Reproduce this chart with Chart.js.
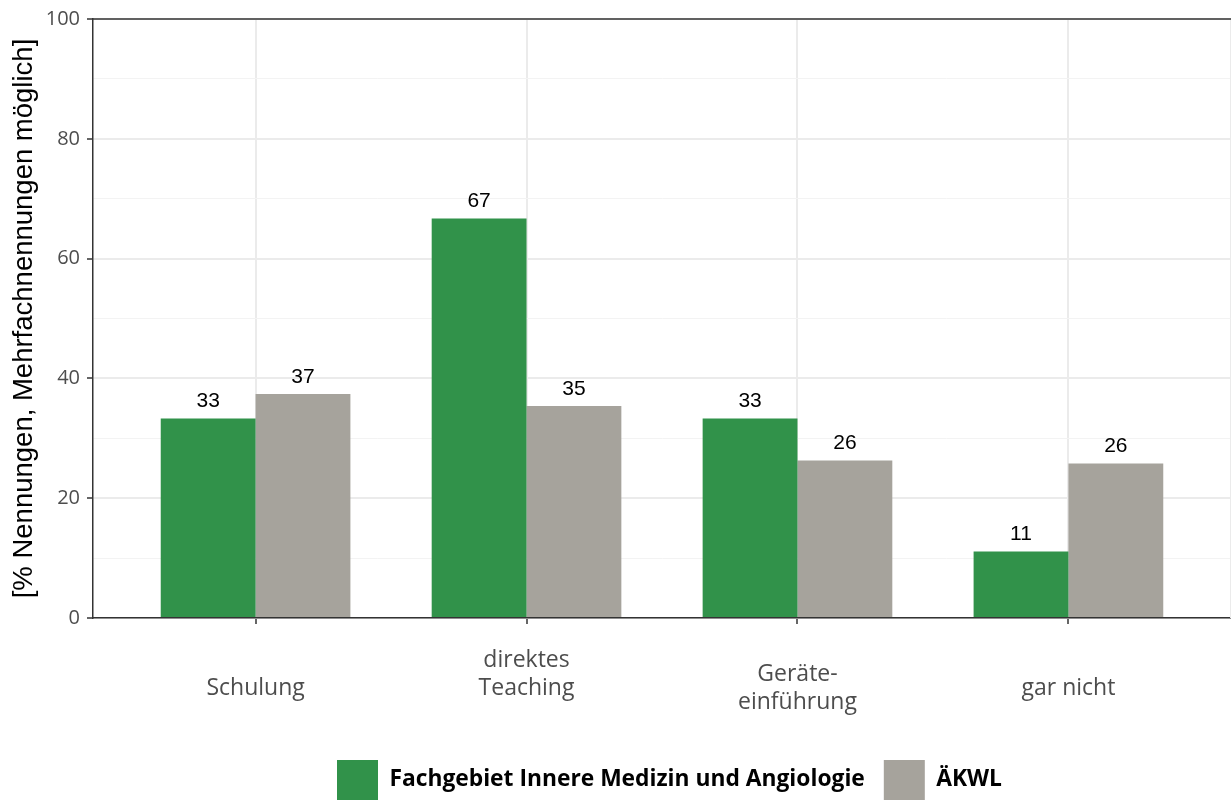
<!DOCTYPE html>
<html>
<head>
<meta charset="utf-8">
<script src="https://cdn.jsdelivr.net/npm/chart.js@4/dist/chart.umd.min.js"></script>
<style>
  html, body { margin: 0; padding: 0; background: #fff; overflow: hidden; }
  #wrap { width: 1231px; height: 800px; position: relative; }
</style>
</head>
<body>
<div id="wrap"><canvas id="c" width="1231" height="800"></canvas></div>
<script>
// Categories (multi-line tick labels; blank lines only shift vertical placement)
const categories = ["Schulung", "direktes Teaching", "Geräte-einführung", "gar nicht"];
const categoryLabelLines = [
  ["", "", "Schulung"],
  ["direktes", "", "Teaching"],
  ["", "Geräte-", "", "einführung"],
  ["", "", "gar nicht"]
];
const seriesNames = ["Fachgebiet Innere Medizin und Angiologie", "ÄKWL"];
const fachgebietValues = [33.3, 66.7, 33.3, 11.1];
const aekwlValues = [37.4, 35.4, 26.3, 25.8];
const yTicks = [0, 20, 40, 60, 80, 100];
const yTitle = "[% Nennungen, Mehrfachnennungen möglich]";

const GREEN = "#31924A";
const GRAY = "#A6A39C";

const toPoints = vals => vals.map((v, i) => ({ x: i + 1, y: v }));

const valueLabels = {
  id: "valueLabels",
  afterDatasetsDraw(chart) {
    const ctx = chart.ctx;
    ctx.save();
    ctx.font = "21px 'Liberation Sans', Arial, sans-serif";
    ctx.fillStyle = "#000";
    ctx.textAlign = "center";
    ctx.textBaseline = "middle";
    chart.data.datasets.forEach((ds, di) => {
      const meta = chart.getDatasetMeta(di);
      meta.data.forEach((el, i) => {
        ctx.fillText(String(Math.round(ds.data[i].y)), el.x, el.y - 17);
      });
    });
    ctx.restore();
  }
};

const panelFrame = {
  id: "panelFrame",
  beforeDraw(chart) {
    // center the legend row under the plot panel, as in the reference
    if (chart.legend) { chart.legend.left = 108; chart.legend.right = 1231; }
  },
  afterDraw(chart) {
    const { ctx, chartArea: a } = chart;
    ctx.save();
    ctx.strokeStyle = "#EBEBEB";
    ctx.lineWidth = 1;
    ctx.beginPath();
    ctx.moveTo(a.right - 0.5, a.top);
    ctx.lineTo(a.right - 0.5, a.bottom);
    ctx.stroke();
    ctx.strokeStyle = "#333";
    ctx.lineWidth = 1.5;
    ctx.beginPath();
    ctx.moveTo(a.left, a.top);
    ctx.lineTo(a.right, a.top);
    ctx.stroke();
    ctx.restore();
  }
};

new Chart(document.getElementById("c"), {
  type: "bar",
  data: {
    datasets: [
      { label: seriesNames[0], data: toPoints(fachgebietValues), backgroundColor: GREEN, borderWidth: 0 },
      { label: seriesNames[1], data: toPoints(aekwlValues), backgroundColor: GRAY, borderWidth: 0 }
    ]
  },
  options: {
    responsive: false,
    animation: false,
    devicePixelRatio: 1,
    layout: { padding: { top: 17, right: 0, left: 0, bottom: -10 } },
    datasets: { bar: { categoryPercentage: 0.7, barPercentage: 1.0 } },
    scales: {
      x: {
        type: "linear",
        min: 0.4,
        max: 4.6,
        offset: false,
        afterBuildTicks: s => { s.ticks = categories.map((c, i) => ({ value: i + 1 })); },
        afterFit: s => { s.height = 123; },
        ticks: {
          autoSkip: false,
          maxRotation: 0,
          padding: 29,
          color: "#4D4D4D",
          font: { family: "'Open Sans', sans-serif", size: 23, lineHeight: "14px" },
          callback: v => categoryLabelLines[Math.round(v) - 1]
        },
        grid: { offset: false, color: "#EBEBEB", lineWidth: 2, tickColor: "#333", tickLength: 6, tickWidth: 1.5 },
        border: { display: true, color: "#333", width: 1.5 }
      },
      y: {
        min: 0,
        max: 100,
        afterBuildTicks: s => {
          const t = [];
          for (let v = 0; v <= 100; v += 10) t.push({ value: v });
          s.ticks = t;
        },
        afterFit: s => { s.width = 93; },
        ticks: {
          padding: 7,
          color: "#4D4D4D",
          font: { family: "'Open Sans', sans-serif", size: 20 },
          callback: v => (yTicks.includes(v) ? String(v) : "")
        },
        grid: {
          color: c => (c.tick && c.tick.value % 20 === 0 ? "#EBEBEB" : "#F3F3F3"),
          lineWidth: c => (c.tick && c.tick.value % 20 === 0 ? 2 : 1),
          tickColor: c => (c.tick && c.tick.value % 20 === 0 ? "#333" : "rgba(0,0,0,0)"),
          tickLength: 6,
          tickWidth: 1.5
        },
        border: { display: true, color: "#333", width: 1.5 },
        title: {
          display: true,
          text: yTitle,
          color: "#000",
          font: { family: "'Liberation Sans', Arial, sans-serif", size: 27.5 },
          padding: { top: 8, bottom: 0 }
        }
      }
    },
    plugins: {
      legend: {
        position: "bottom",
        labels: {
          boxWidth: 41,
          boxHeight: 40,
          padding: 19,
          color: "#000",
          font: { family: "'Open Sans', sans-serif", size: 22.8, weight: "bold" }
        }
      },
      tooltip: { enabled: false }
    }
  },
  plugins: [valueLabels, panelFrame]
});
</script>
</body>
</html>
